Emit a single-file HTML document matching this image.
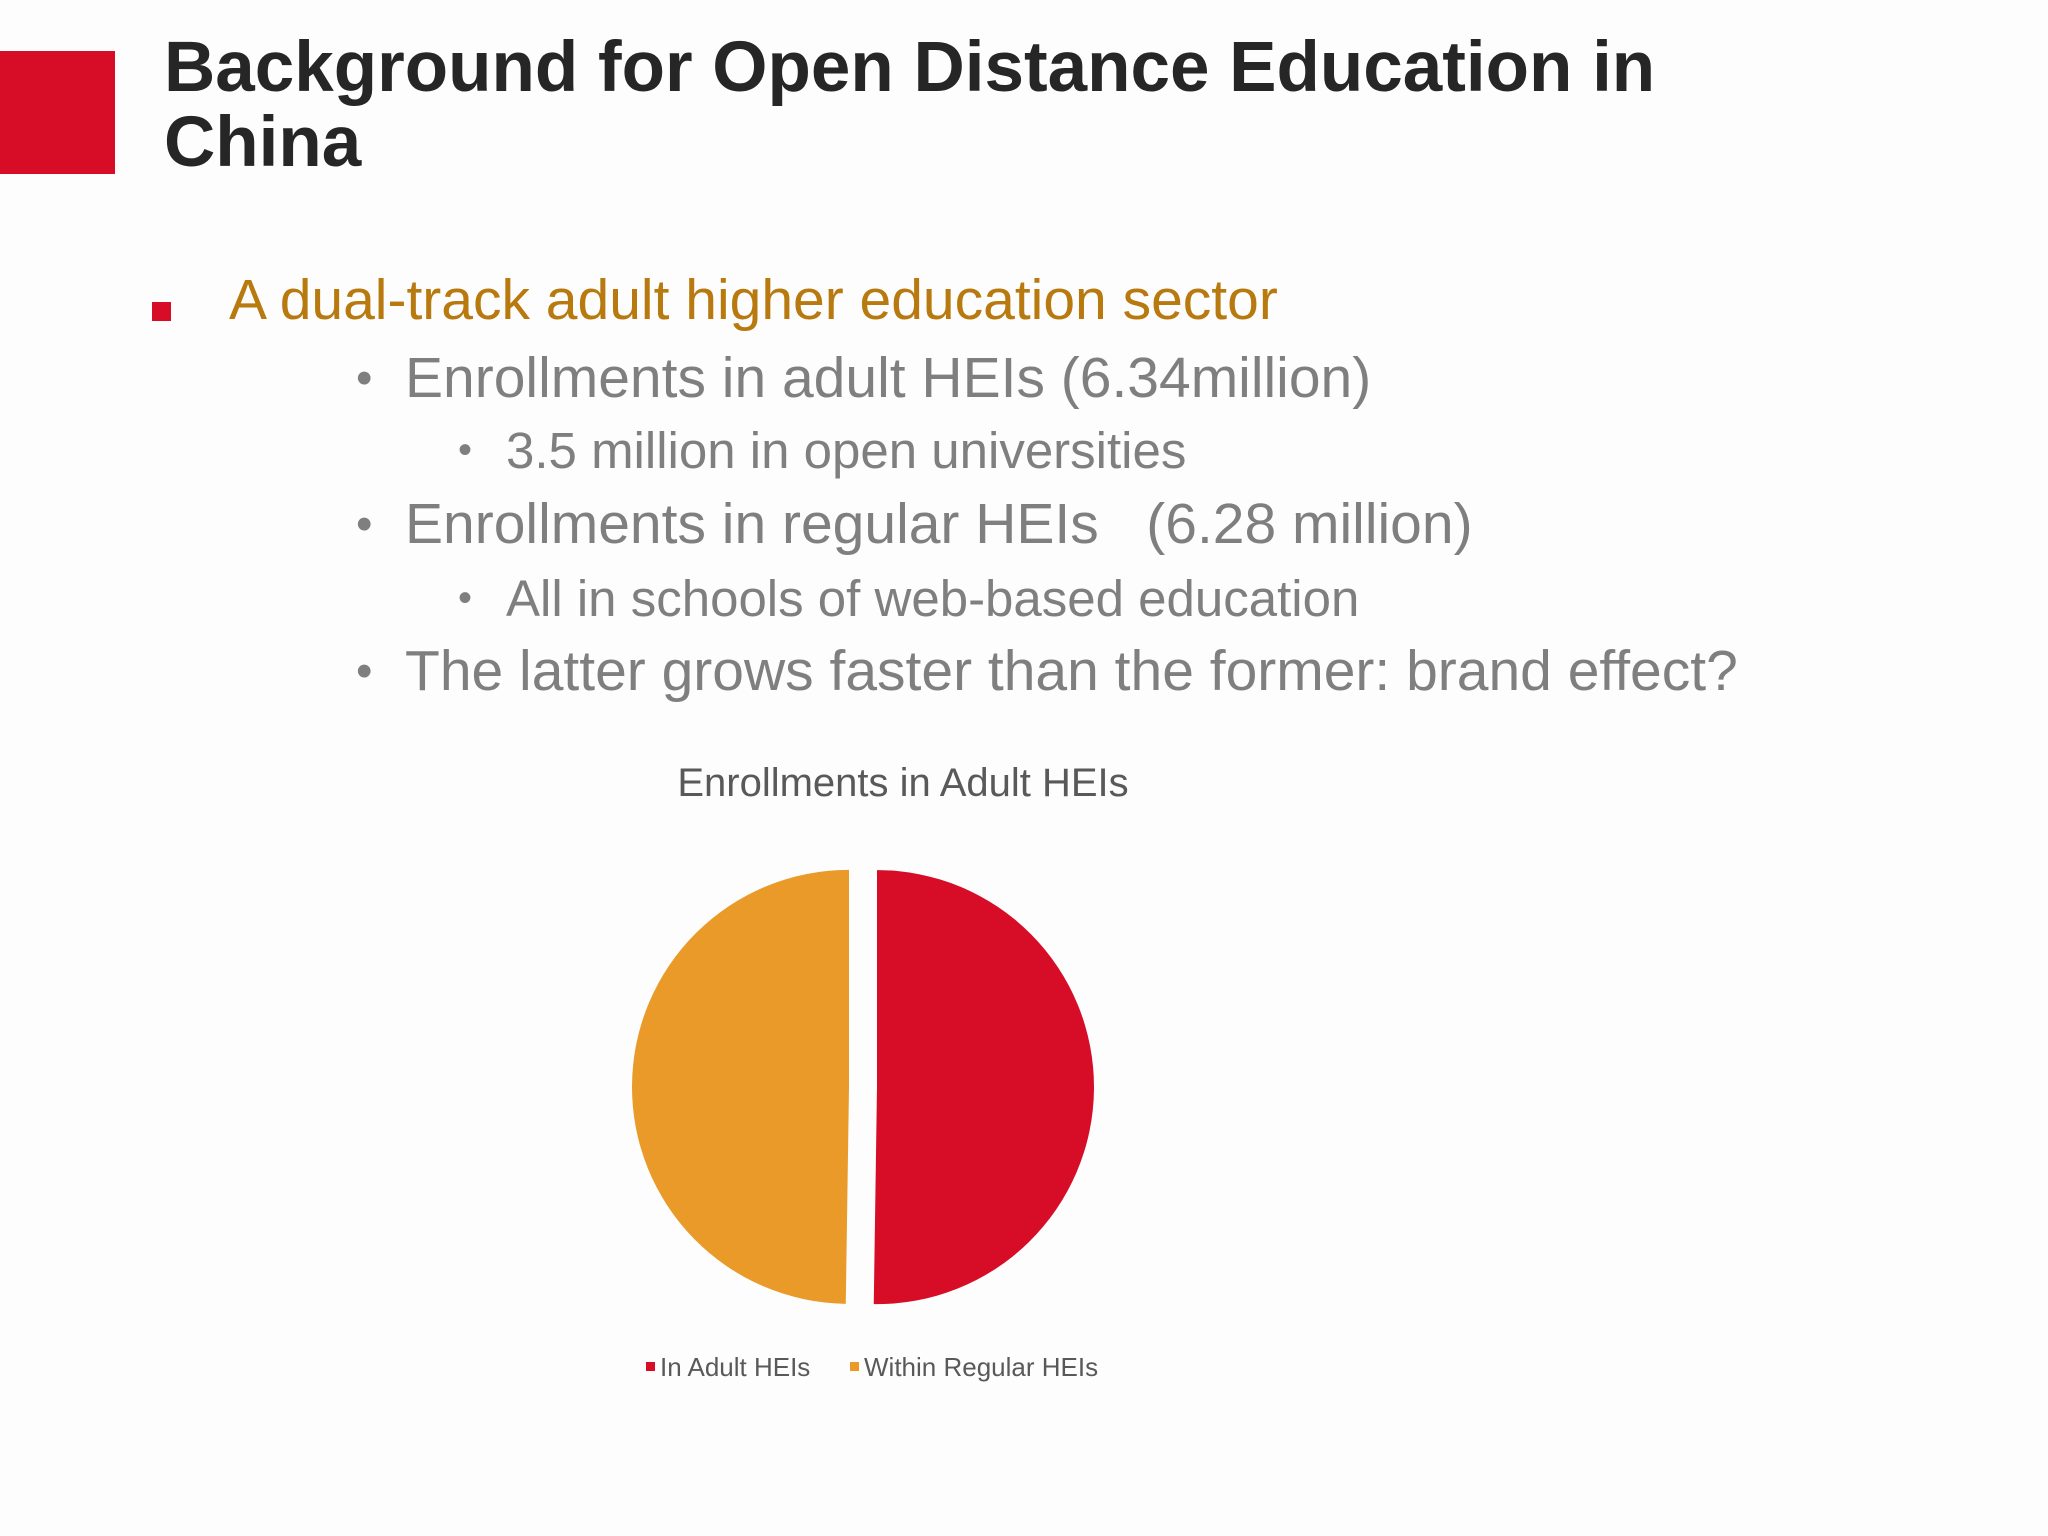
<!DOCTYPE html>
<html><head><meta charset="utf-8"><style>
body{margin:0;width:2048px;height:1536px;background:#fdfdfd;position:relative;overflow:hidden;font-family:"Liberation Sans",Arial,sans-serif}
.a{position:absolute;white-space:nowrap}
.t{font-weight:bold;color:#262626;font-size:71px;left:164px;font-family:"Liberation Sans",sans-serif}
.l2{font-size:57px;color:#7f7f7f;left:405px}
.l3{font-size:51px;color:#7f7f7f;left:506px}
.b2{font-size:47px;color:#7f7f7f;left:356px}
.b3{font-size:40px;color:#7f7f7f;left:458px}
</style></head><body>
<div class="a" style="left:0;top:51px;width:115px;height:123px;background:#d70c27"></div>
<div class="a t" style="top:27px">Background for Open Distance Education in</div>
<div class="a t" style="top:102px">China</div>
<div class="a" style="left:152px;top:302px;width:19px;height:19px;background:#d70c27"></div>
<div class="a" style="left:229px;top:267px;font-size:57px;color:#b8790f">A dual-track adult higher education sector</div>
<div class="a b2" style="top:350px">•</div>
<div class="a l2" style="top:345px">Enrollments in adult HEIs (6.34million)</div>
<div class="a b3" style="top:428px">•</div>
<div class="a l3" style="top:421px">3.5 million in open universities</div>
<div class="a b2" style="top:496px">•</div>
<div class="a l2" style="top:491px">Enrollments in regular HEIs &nbsp;&nbsp;(6.28 million)</div>
<div class="a b3" style="top:576px">•</div>
<div class="a l3" style="top:569px">All in schools of web-based education</div>
<div class="a b2" style="top:643px">•</div>
<div class="a l2" style="top:638px">The latter grows faster than the former: brand effect?</div>
<svg class="a" style="left:0;top:0" width="2048" height="1536">
<text x="903" y="796" text-anchor="middle" font-size="40" fill="#595959" font-family="Liberation Sans, sans-serif">Enrollments in Adult HEIs</text>
<g id="pie"></g>
<g id="legend"></g>
</svg>
<script>
const categories=["In Adult HEIs","Within Regular HEIs"];
const values=[6.34,6.28];
const colors=["#d70c27","#e99a28"];
const cx=863,cy=1087,r=217,explode=14;
const ns="http://www.w3.org/2000/svg";
const pie=document.getElementById('pie');
const total=values.reduce((a,b)=>a+b,0);
let ang=0;
values.forEach((v,i)=>{
  const sweep=v/total*2*Math.PI;
  const mid=ang+sweep/2;
  const ox=cx+explode*Math.sin(mid), oy=cy-explode*Math.cos(mid);
  const x1=ox+r*Math.sin(ang), y1=oy-r*Math.cos(ang);
  const x2=ox+r*Math.sin(ang+sweep), y2=oy-r*Math.cos(ang+sweep);
  const p=document.createElementNS(ns,'path');
  p.setAttribute('d',`M${ox},${oy}L${x1},${y1}A${r},${r} 0 ${sweep>Math.PI?1:0} 1 ${x2},${y2}Z`);
  p.setAttribute('fill',colors[i]);
  
  
  pie.appendChild(p);
  ang+=sweep;
});
const lg=document.getElementById('legend');
const lx=[646,850];
categories.forEach((c,i)=>{
  const s=document.createElementNS(ns,'rect');
  s.setAttribute('x',lx[i]);s.setAttribute('y',1362);s.setAttribute('width',9);s.setAttribute('height',9);s.setAttribute('fill',colors[i]);
  
  
  lg.appendChild(s);
  const t=document.createElementNS(ns,'text');
  t.setAttribute('x',lx[i]+14);t.setAttribute('y',1376);t.setAttribute('font-size',26);t.setAttribute('fill','#595959');
  t.setAttribute('font-family','Liberation Sans, sans-serif');
  t.textContent=c;
  
  
  lg.appendChild(t);
});
</script>
</body></html>
